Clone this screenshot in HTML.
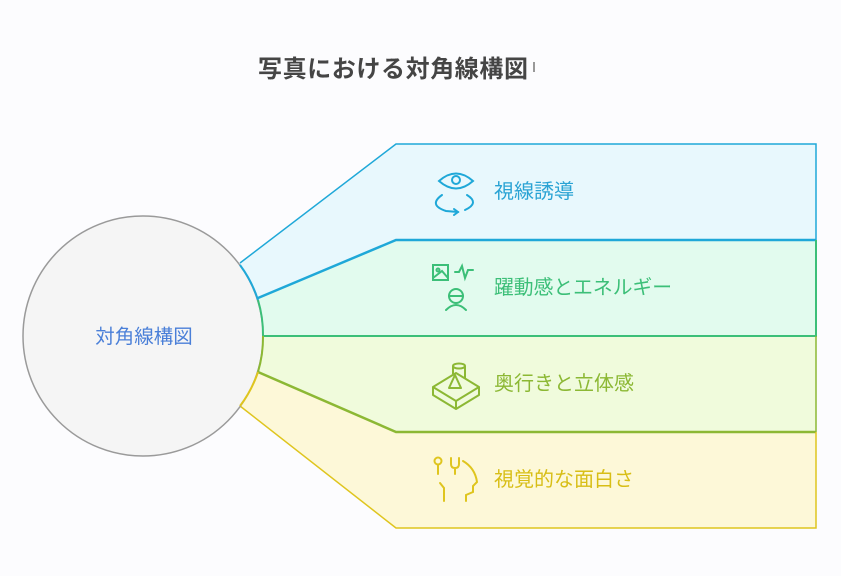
<!DOCTYPE html>
<html><head><meta charset="utf-8"><style>
html,body{margin:0;padding:0;background:#fcfcfe;}
svg{display:block;font-family:"Liberation Sans","Noto Sans CJK JP",sans-serif;}
</style></head><body>
<svg width="841" height="576" viewBox="0 0 841 576">
<rect width="841" height="576" fill="#fcfcfe"/>
<text x="258" y="77" font-size="24" font-weight="bold" fill="#454545" letter-spacing="0.6">写真における対角線構図</text>
<rect x="533" y="62" width="2" height="10" fill="#999"/>
<!-- bands -->
<polygon points="200,300 240,263 396,144 816,144 816,240 396,240 258,298" fill="#e8f8fd"/>
<polygon points="200,336 258,298 396,240 816,240 816,336 263,336" fill="#e2fbee"/>
<polygon points="200,336 263,336 816,336 816,432 396,432 258,372" fill="#f0fbdc"/>
<polygon points="200,380 258,372 396,432 816,432 816,528 396,528 240,406" fill="#fdf8d8"/>
<polyline points="240,263 396,144 816,144 816,240" fill="none" stroke="#1fa8d8" stroke-width="1.5"/>
<polyline points="258,298 396,240 816,240" fill="none" stroke="#1fa8d8" stroke-width="2.5"/>
<polyline points="816,240 816,336 263,336" fill="none" stroke="#3cbf78" stroke-width="2"/>
<polyline points="816,336 816,432" fill="none" stroke="#8cb834" stroke-width="1.5"/>
<polyline points="258,372 396,432 816,432" fill="none" stroke="#8cb834" stroke-width="2.5"/>
<polyline points="816,432 816,528 396,528 240,406" fill="none" stroke="#dfc51e" stroke-width="1.5"/>
<!-- circle -->
<circle cx="143" cy="336" r="120" fill="#f5f5f5" stroke="#9a9a9a" stroke-width="1.5"/>
<path d="M240,265 A120,120 0 0 1 258,300" fill="none" stroke="#1fa8d8" stroke-width="2"/>
<path d="M258,300 A120,120 0 0 1 263,336" fill="none" stroke="#3cbf78" stroke-width="2"/>
<path d="M263,336 A120,120 0 0 1 258,372" fill="none" stroke="#8cb834" stroke-width="2"/>
<path d="M258,372 A120,120 0 0 1 240,406" fill="none" stroke="#dfc51e" stroke-width="2"/>
<text x="144" y="343" font-size="19.5" fill="#4a7fd8" text-anchor="middle">対角線構図</text>
<!-- labels -->
<text x="494" y="198" font-size="20" fill="#2aa3d4">視線誘導</text>
<text x="494" y="294" font-size="19.8" fill="#3cbf78">躍動感とエネルギー</text>
<text x="494" y="390" font-size="20" fill="#8cb834">奥行きと立体感</text>
<text x="494" y="486" font-size="20" fill="#d8be16">視覚的な面白さ</text>
<!-- icons -->
<g fill="none" stroke="#1fa8d8" stroke-width="2" stroke-linecap="round">
<path d="M439,181 Q456,166 473,181 Q456,196 439,181Z"/><circle cx="456" cy="180" r="4"/>
<path d="M442,195 Q428,205 446,211 L458,212"/><path d="M454,209 L458,212 L454,215"/><path d="M467,195 Q480,203 465,210"/>
</g>
<g fill="none" stroke="#3cbf78" stroke-width="2" stroke-linecap="round">
<rect x="433" y="265" width="15" height="15"/><circle cx="438" cy="270" r="1.5"/><path d="M433,278 L442,271 L448,278"/>
<path d="M455,272 L459,272 L462,266 L465,278 L468,270 L473,270"/>
<circle cx="456" cy="296" r="7"/><path d="M449,296 L463,296"/><path d="M446,310 Q456,300 466,310"/>
</g>
<g fill="none" stroke="#8cb834" stroke-width="2" stroke-linejoin="round">
<path d="M433,387 L456,373 L479,387 L456,401Z"/><path d="M433,387 L433,395 L456,409 L479,395 L479,387"/><path d="M456,401 L456,409"/>
<ellipse cx="459" cy="366" rx="6" ry="2.5"/><path d="M453,366 L453,374 M465,366 L465,378"/>
<path d="M449,388 L455,375 L461,388 Z"/>
</g>
<g fill="none" stroke="#dfc51e" stroke-width="2" stroke-linecap="round">
<circle cx="438" cy="461" r="3.5"/><path d="M438,465 L438,474"/>
<path d="M451,458 L451,464 Q451,468 455,468 Q459,468 459,464 L459,458 M455,468 L455,474"/>
<path d="M463,461 Q475,468 477,482 L473,486 L473,492 L466,495 L466,501"/>
<path d="M440,483 L444,488 L444,501"/>
</g>
</svg>
</body></html>
